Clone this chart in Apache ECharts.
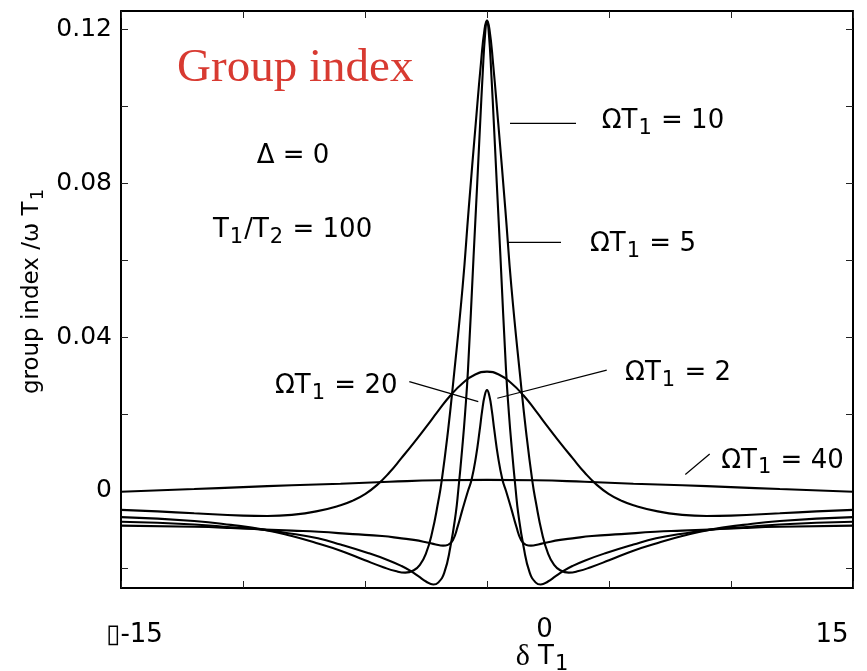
<!DOCTYPE html>
<html>
<head>
<meta charset="utf-8">
<title>Group index</title>
<script src="https://cdn.jsdelivr.net/npm/echarts@6.0.0/dist/echarts.min.js"></script>
<style>
html, body { margin: 0; padding: 0; background: #fff; }
#chart { width: 867px; height: 671px; }
</style>
</head>
<body>
<div id="chart"></div>
<script>
// ---------------- data ----------------
// Omega*T1 = 2 (small narrow peak)
const deltaW2 = [-15, -12, -10.5, -9.1, -8, -6.9, -5.5, -4.3, -3.5, -3, -2.5, -2.1, -1.8, -1.6, -1.4, -1.2, -1.0, -0.78, -0.63, -0.45, -0.3, -0.2, -0.1, 0,
                 0.1, 0.2, 0.3, 0.45, 0.63, 0.78, 1.0, 1.2, 1.4, 1.6, 1.8, 2.1, 2.5, 3, 3.5, 4.3, 5.5, 6.9, 8, 9.1, 10.5, 12, 15];
const indexW2 = [-0.0090, -0.0093, -0.0096, -0.0100, -0.0103, -0.0106, -0.0112, -0.0117, -0.0123, -0.0127, -0.0133, -0.0139, -0.0142, -0.0140, -0.0128, -0.0092, -0.0047, 0.0000, 0.0030, 0.0090, 0.0158, 0.0208, 0.0246, 0.0262,
                 0.0246, 0.0208, 0.0158, 0.0090, 0.0030, 0.0000, -0.0047, -0.0092, -0.0128, -0.0140, -0.0142, -0.0139, -0.0133, -0.0127, -0.0123, -0.0117, -0.0112, -0.0106, -0.0103, -0.0100, -0.0096, -0.0093, -0.0090];

// Omega*T1 = 5 (narrow tall peak)
const deltaW5 = [-15, -12, -10.5, -9.1, -8, -6.93, -6, -4.88, -4, -3.5, -3.1, -2.8, -2.5, -2.2, -2.0, -1.75, -1.5, -1.28, -1.18, -1.01, -0.9, -0.78, -0.55, -0.4, -0.28, -0.18, -0.08, 0,
                 0.08, 0.18, 0.28, 0.4, 0.55, 0.78, 0.9, 1.01, 1.18, 1.28, 1.5, 1.75, 2.0, 2.2, 2.5, 2.8, 3.1, 3.5, 4, 4.88, 6, 6.93, 8, 9.1, 10.5, 12, 15];
const indexW5 = [-0.0080, -0.0087, -0.0094, -0.0101, -0.0111, -0.0123, -0.0139, -0.0161, -0.0181, -0.0195, -0.0209, -0.0222, -0.0235, -0.0243, -0.0238, -0.0212, -0.0145, -0.0058, 0.0000, 0.0115, 0.0200, 0.0314, 0.0610, 0.0800, 0.0956, 0.1080, 0.1185, 0.1222,
                 0.1185, 0.1080, 0.0956, 0.0800, 0.0610, 0.0314, 0.0200, 0.0115, 0.0000, -0.0058, -0.0145, -0.0212, -0.0238, -0.0243, -0.0235, -0.0222, -0.0209, -0.0195, -0.0181, -0.0161, -0.0139, -0.0123, -0.0111, -0.0101, -0.0094, -0.0087, -0.0080];

// Omega*T1 = 10 (wider tall peak)
const deltaW10 = [-15, -12, -10.5, -9.1, -8, -7, -6, -5, -4.25, -3.75, -3.35, -3.0, -2.75, -2.5, -2.25, -2.0, -1.86, -1.6, -1.38, -1.0, -0.75, -0.46, -0.25, -0.1, 0,
                  0.1, 0.25, 0.46, 0.75, 1.0, 1.38, 1.6, 1.86, 2.0, 2.25, 2.5, 2.75, 3.0, 3.35, 3.75, 4.25, 5, 6, 7, 8, 9.1, 10.5, 12, 15];
const indexW10 = [-0.0068, -0.0078, -0.0088, -0.0101, -0.0117, -0.0135, -0.0155, -0.0180, -0.0198, -0.0208, -0.0212, -0.0206, -0.0192, -0.0162, -0.0108, -0.0028, 0.0025, 0.0155, 0.0285, 0.0530, 0.0733, 0.0956, 0.1110, 0.1200, 0.1222,
                  0.1200, 0.1110, 0.0956, 0.0733, 0.0530, 0.0285, 0.0155, 0.0025, -0.0028, -0.0108, -0.0162, -0.0192, -0.0206, -0.0212, -0.0208, -0.0198, -0.0180, -0.0155, -0.0135, -0.0117, -0.0101, -0.0088, -0.0078, -0.0068];

// Omega*T1 = 20 (broad bump)
const deltaW20 = [-15, -13.5, -12, -10, -9, -8, -7, -6, -5.5, -5, -4.5, -4, -3.5, -3, -2.5, -2, -1.5, -1, -0.5, 0,
                  0.5, 1, 1.5, 2, 2.5, 3, 3.5, 4, 4.5, 5, 5.5, 6, 7, 8, 9, 10, 12, 13.5, 15];
const indexW20 = [-0.0049, -0.0053, -0.0058, -0.0064, -0.0065, -0.0062, -0.0053, -0.0037, -0.0025, -0.0008, 0.0016, 0.0048, 0.0086, 0.0125, 0.0166, 0.0208, 0.0248, 0.0280, 0.0302, 0.0310,
                  0.0302, 0.0280, 0.0248, 0.0208, 0.0166, 0.0125, 0.0086, 0.0048, 0.0016, -0.0008, -0.0025, -0.0037, -0.0053, -0.0062, -0.0065, -0.0064, -0.0058, -0.0053, -0.0049];

// Omega*T1 = 40 (nearly flat)
const deltaW40 = [-15, -12, -10, -8, -6, -4, -2, 0, 2, 4, 6, 8, 10, 12, 15];
const indexW40 = [-0.0002, 0.0005, 0.0010, 0.0015, 0.0019, 0.0024, 0.0028, 0.0029, 0.0028, 0.0024, 0.0019, 0.0015, 0.0010, 0.0005, -0.0002];

// axis ticks / labels
const xTickValues = [-15, -10, -5, 0, 5, 10, 15];
const xLabelValues = [-15, 0, 15];
const xLabelTexts = ['{b|\u25AF}{k0|-15}', '{k1|0}', '{k2|15}'];
const yTickValues = [-0.02, 0, 0.02, 0.04, 0.06, 0.08, 0.10, 0.12];
const yLabelValues = [0, 0.04, 0.08, 0.12];
const yLabelTexts = ['0', '0.04', '0.08', '0.12'];

// curve annotations: label text, label anchor (data coords, left / middle), pointer segment (data coords)
const annotationTexts = ['{g|\u03A9}{m|T}{s|1}{m| = 10}', '{g|\u03A9}{m|T}{s|1}{m| = 5}', '{g|\u03A9}{m|T}{s|1}{m| = 20}', '{g|\u03A9}{m|T}{s|1}{m| = 2}', '{g|\u03A9}{m|T}{s|1}{m| = 40}'];
const annotationAnchors = [[4.70, 0.0960], [4.22, 0.0640], [-8.69, 0.0271], [5.66, 0.0305], [9.60, 0.0078]];
const pointerSegments = [
  [[0.943, 0.0955], [3.648, 0.0955]],
  [[0.832, 0.0646], [3.033, 0.0646]],
  [[-3.184, 0.0284], [-0.357, 0.0232]],
  [[4.906, 0.0314], [0.422, 0.0241]],
  [[9.127, 0.0096], [8.127, 0.0043]]
];
// other texts in the plot
const titleText = 'Group index';
const titleAnchor = [-12.70, 0.1096];
const paramTexts = ['{m|\u0394 = 0}', '{m|T}{s|1}{m|/T}{s|2}{m| = 100}'];
const paramAnchors = [[-9.44, 0.0870], [-11.23, 0.0677]];

// ---------------- chart ----------------
const SANS = '"DejaVu Sans", sans-serif';
const SERIF = '"Liberation Serif", "DejaVu Serif", serif';
const chart = echarts.init(document.getElementById('chart'), null, { renderer: 'canvas' });

const curveSets = [[deltaW2, indexW2], [deltaW5, indexW5], [deltaW10, indexW10], [deltaW20, indexW20], [deltaW40, indexW40]];
const curveNames = ['\u03A9T1 = 2', '\u03A9T1 = 5', '\u03A9T1 = 10', '\u03A9T1 = 20', '\u03A9T1 = 40'];

const series = curveSets.map(([xs, ys], i) => ({
  name: curveNames[i],
  type: 'line',
  data: xs.map((x, k) => [x, ys[k]]),
  symbol: 'none',
  showSymbol: false,
  smooth: 0.5,
  clip: true,
  silent: true,
  lineStyle: { color: '#000', width: 2.1 },
  z: 3
}));
pointerSegments.forEach(seg => series.push({
  type: 'line', data: seg, symbol: 'none', silent: true,
  lineStyle: { color: '#000', width: 1.2 }, z: 2
}));

function idxOf(arr, v) { return arr.findIndex(a => Math.abs(a - v) < 1e-9); }

const frameLine = { show: true, onZero: false, lineStyle: { color: '#000', width: 2 } };
const innerTick = (vals) => ({ show: true, inside: true, length: 7, customValues: vals, lineStyle: { color: '#222', width: 1 } });

const option = {
  animation: false,
  backgroundColor: '#fff',
  grid: { left: 121, right: 14, top: 11, bottom: 83, containLabel: false, outerBoundsMode: 'none' },
  xAxis: [
    {
      type: 'value', min: -15, max: 15, interval: 5, position: 'bottom',
      axisLine: frameLine,
      axisTick: innerTick(xTickValues),
      splitLine: { show: false },
      axisLabel: {
        customValues: xLabelValues,
        margin: 29,
        formatter: v => { const i = idxOf(xLabelValues, v); return i < 0 ? '' : xLabelTexts[i]; },
        rich: {
          b: { fontFamily: SANS, fontSize: 26, fontWeight: 'bold', color: '#000', padding: [5, 0, 0, 27] },
          k0: { fontFamily: SANS, fontSize: 26, color: '#000', padding: [5, 0, 0, 0] },
          k1: { fontFamily: SANS, fontSize: 26, color: '#000', padding: [0, 0, 0, 115] },
          k2: { fontFamily: SANS, fontSize: 26, color: '#000', padding: [5, 42, 0, 0] }
        }
      },
      name: '{d|\u03B4}{t| T}{s|1}',
      nameLocation: 'middle',
      nameGap: 52,
      nameMoveOverlap: false,
      nameTextStyle: {
        padding: [0, 0, 0, 110],
        rich: {
          d: { fontFamily: SERIF, fontSize: 30, color: '#000' },
          t: { fontFamily: SANS, fontSize: 26, color: '#000' },
          s: { fontFamily: SANS, fontSize: 21, color: '#000', padding: [14, 0, 0, 1] }
        }
      }
    },
    {
      type: 'value', min: -15, max: 15, interval: 5, position: 'top',
      axisLine: frameLine,
      axisTick: innerTick(xTickValues),
      axisLabel: { show: false },
      splitLine: { show: false }
    }
  ],
  yAxis: [
    {
      type: 'value', min: -0.0252, max: 0.1247, position: 'left',
      axisLine: frameLine,
      axisTick: innerTick(yTickValues),
      splitLine: { show: false },
      axisLabel: {
        customValues: yLabelValues,
        margin: 9,
        fontFamily: SANS, fontSize: 25, color: '#000',
        formatter: v => { const i = idxOf(yLabelValues, v); return i < 0 ? '' : yLabelTexts[i]; }
      },
      name: '{m|group index /\u03C9 T}{s|1}',
      nameLocation: 'middle',
      nameRotate: 90,
      nameGap: 74,
      nameMoveOverlap: false,
      nameTextStyle: {
        padding: [0, 0, 0, 16],
        rich: {
          m: { fontFamily: SANS, fontSize: 23, color: '#000' },
          s: { fontFamily: SANS, fontSize: 18, color: '#000', padding: [12, 0, 0, 1] }
        }
      }
    },
    {
      type: 'value', min: -0.0252, max: 0.1247, position: 'right',
      axisLine: frameLine,
      axisTick: innerTick(yTickValues),
      axisLabel: { show: false },
      splitLine: { show: false }
    }
  ],
  series: series
};
chart.setOption(option);

// ---------------- annotation texts, positioned from data coordinates ----------------
const annRich = {
  g: { font: '26px ' + SANS, fill: '#000' },
  m: { font: '26px ' + SANS, fill: '#000' },
  s: { font: '21px ' + SANS, fill: '#000', padding: [14, 1, 0, 1] }
};
function textAt(anchor, text, rich, font, fill) {
  const p = chart.convertToPixel({ xAxisIndex: 0, yAxisIndex: 0 }, anchor);
  return {
    type: 'text', x: p[0], y: p[1], silent: true, z: 10,
    style: { text: text, rich: rich, font: font, fill: fill, align: 'left', verticalAlign: 'middle', textAlign: 'left', textVerticalAlign: 'middle' }
  };
}
const graphics = [];
annotationTexts.forEach((t, i) => graphics.push(textAt(annotationAnchors[i], t, annRich, '26px ' + SANS, '#000')));
paramTexts.forEach((t, i) => graphics.push(textAt(paramAnchors[i], t, annRich, '26px ' + SANS, '#000')));
graphics.push(textAt(titleAnchor, titleText, null, '47px ' + SERIF, '#d83a31'));
chart.setOption({ graphic: graphics });
</script>
</body>
</html>
